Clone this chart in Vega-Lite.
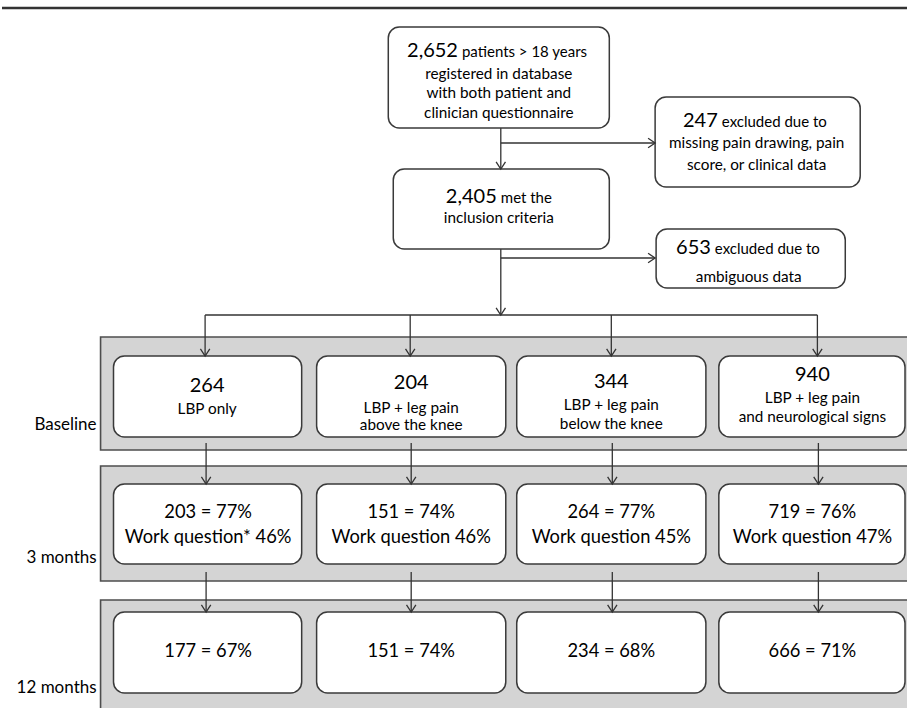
{
  "$schema": "https://vega.github.io/schema/vega-lite/v6.json",
  "width": 909,
  "height": 708,
  "padding": 0,
  "autosize": {"type": "fit", "contains": "padding"},
  "background": "white",
  "config": {"view": {"stroke": null}, "text": {"font": "Lato", "color": "#000000"}},
  "datasets": {
    "bands": [
      {"stage": "Baseline", "x": 99, "x2": 912, "y": 337, "y2": 450},
      {"stage": "3 months", "x": 99, "x2": 912, "y": 466, "y2": 581},
      {"stage": "12 months", "x": 99, "x2": 912, "y": 600, "y2": 714}
    ],
    "frame": [{"x": 0, "x2": 909, "y": 8, "y2": 8}],
    "lines": [
      {"x": 501, "x2": 501, "y": 128, "y2": 169},
      {"x": 501, "x2": 656, "y": 143, "y2": 143},
      {"x": 501, "x2": 501, "y": 249, "y2": 315},
      {"x": 501, "x2": 656, "y": 258, "y2": 258},
      {"x": 204, "x2": 819, "y": 315, "y2": 315},
      {"x": 204, "x2": 204, "y": 315, "y2": 356},
      {"x": 410, "x2": 410, "y": 315, "y2": 356},
      {"x": 612, "x2": 612, "y": 315, "y2": 356},
      {"x": 819, "x2": 819, "y": 315, "y2": 356},
      {"x": 205, "x2": 205, "y": 443, "y2": 484},
      {"x": 411, "x2": 411, "y": 443, "y2": 484},
      {"x": 613, "x2": 613, "y": 443, "y2": 484},
      {"x": 820, "x2": 820, "y": 443, "y2": 484},
      {"x": 205, "x2": 205, "y": 572, "y2": 612},
      {"x": 411, "x2": 411, "y": 572, "y2": 612},
      {"x": 613, "x2": 613, "y": 572, "y2": 612},
      {"x": 820, "x2": 820, "y": 572, "y2": 612}
    ],
    "arrows": [
      {"dir": "down", "x": 501, "y": 169},
      {"dir": "right", "x": 656, "y": 143},
      {"dir": "right", "x": 656, "y": 258},
      {"dir": "down", "x": 501, "y": 315},
      {"dir": "down", "x": 204, "y": 356},
      {"dir": "down", "x": 410, "y": 356},
      {"dir": "down", "x": 612, "y": 356},
      {"dir": "down", "x": 819, "y": 356},
      {"dir": "down", "x": 205, "y": 484},
      {"dir": "down", "x": 411, "y": 484},
      {"dir": "down", "x": 613, "y": 484},
      {"dir": "down", "x": 820, "y": 484},
      {"dir": "down", "x": 205, "y": 612},
      {"dir": "down", "x": 411, "y": 612},
      {"dir": "down", "x": 613, "y": 612},
      {"dir": "down", "x": 820, "y": 612}
    ],
    "boxes": [
      {"id": "registered", "x": 388, "x2": 610, "y": 27, "y2": 128},
      {"id": "excluded1", "x": 656, "x2": 862, "y": 97, "y2": 187},
      {"id": "included", "x": 393, "x2": 610, "y": 169, "y2": 249},
      {"id": "excluded2", "x": 657, "x2": 847, "y": 229, "y2": 288},
      {"id": "b1", "x": 112, "x2": 301, "y": 356, "y2": 437},
      {"id": "b2", "x": 316, "x2": 506, "y": 356, "y2": 437},
      {"id": "b3", "x": 517, "x2": 707, "y": 356, "y2": 437},
      {"id": "b4", "x": 720, "x2": 907, "y": 356, "y2": 437},
      {"id": "m3_1", "x": 112, "x2": 301, "y": 484, "y2": 564},
      {"id": "m3_2", "x": 316, "x2": 506, "y": 484, "y2": 564},
      {"id": "m3_3", "x": 517, "x2": 707, "y": 484, "y2": 564},
      {"id": "m3_4", "x": 720, "x2": 907, "y": 484, "y2": 564},
      {"id": "m12_1", "x": 112, "x2": 301, "y": 612, "y2": 693},
      {"id": "m12_2", "x": 316, "x2": 506, "y": 612, "y2": 693},
      {"id": "m12_3", "x": 517, "x2": 707, "y": 612, "y2": 693},
      {"id": "m12_4", "x": 720, "x2": 907, "y": 612, "y2": 693}
    ],
    "texts": [
      {"role": "lead", "x": 458, "y": 57, "text": "2,652"},
      {"role": "tail", "x": 462, "y": 57, "text": "patients > 18 years"},
      {"role": "line", "x": 499, "y": 74, "text": "registered in database"},
      {"role": "line", "x": 499, "y": 93, "text": "with both  patient and"},
      {"role": "line", "x": 499, "y": 113, "text": "clinician questionnaire"},
      {"role": "lead", "x": 497, "y": 203, "text": "2,405"},
      {"role": "tail", "x": 501, "y": 203, "text": "met the"},
      {"role": "line", "x": 499, "y": 218, "text": "inclusion criteria"},
      {"role": "lead", "x": 719, "y": 127, "text": "247"},
      {"role": "tail", "x": 723, "y": 127, "text": "excluded due to"},
      {"role": "line", "x": 758, "y": 143, "text": "missing pain drawing, pain"},
      {"role": "line", "x": 758, "y": 165, "text": "score, or clinical data"},
      {"role": "lead", "x": 712, "y": 254, "text": "653"},
      {"role": "tail", "x": 716, "y": 254, "text": "excluded due to"},
      {"role": "line", "x": 750, "y": 277, "text": "ambiguous data"},
      {"role": "count", "x": 206, "y": 386, "text": "264"},
      {"role": "line", "x": 206, "y": 409, "text": "LBP only"},
      {"role": "count", "x": 411, "y": 383, "text": "204"},
      {"role": "line", "x": 411, "y": 408, "text": "LBP +  leg pain"},
      {"role": "line", "x": 411, "y": 425, "text": "above the knee"},
      {"role": "count", "x": 612, "y": 382, "text": "344"},
      {"role": "line", "x": 612, "y": 405, "text": "LBP + leg pain"},
      {"role": "line", "x": 612, "y": 424, "text": "below  the knee"},
      {"role": "count", "x": 814, "y": 375, "text": "940"},
      {"role": "line", "x": 814, "y": 398, "text": "LBP +  leg pain"},
      {"role": "line", "x": 814, "y": 417, "text": "and neurological signs"},
      {"role": "stat", "x": 207, "y": 513, "text": "203 = 77%"},
      {"role": "stat", "x": 207, "y": 538, "text": "Work question* 46%"},
      {"role": "stat", "x": 411, "y": 513, "text": "151 = 74%"},
      {"role": "stat", "x": 411, "y": 538, "text": "Work question 46%"},
      {"role": "stat", "x": 612, "y": 513, "text": "264 = 77%"},
      {"role": "stat", "x": 612, "y": 538, "text": "Work question 45%"},
      {"role": "stat", "x": 814, "y": 513, "text": "719 = 76%"},
      {"role": "stat", "x": 814, "y": 538, "text": "Work question 47%"},
      {"role": "stat", "x": 207, "y": 652, "text": "177 = 67%"},
      {"role": "stat", "x": 411, "y": 652, "text": "151 = 74%"},
      {"role": "stat", "x": 612, "y": 652, "text": "234 = 68%"},
      {"role": "stat", "x": 814, "y": 652, "text": "666 = 71%"},
      {"role": "group", "x": 95, "y": 425, "text": "Baseline"},
      {"role": "group", "x": 95, "y": 558, "text": "3 months"},
      {"role": "group", "x": 95, "y": 688, "text": "12 months"}
    ]
  },
  "layer": [
    {
      "data": {"name": "bands"},
      "mark": {"type": "rect", "fill": "#d4d4d4", "stroke": "#4d4d4d", "strokeWidth": 1.6, "clip": true},
      "encoding": {
        "x": {"field": "x", "type": "quantitative", "scale": {"domain": [0, 909], "nice": false, "zero": false}, "axis": null},
        "x2": {"field": "x2"},
        "y": {"field": "y", "type": "quantitative", "scale": {"domain": [0, 708], "nice": false, "zero": false, "reverse": true}, "axis": null},
        "y2": {"field": "y2"}
      }
    },
    {
      "data": {"name": "frame"},
      "mark": {"type": "rule", "color": "#333333", "strokeWidth": 2.5},
      "encoding": {
        "x": {"field": "x", "type": "quantitative"},
        "x2": {"field": "x2"},
        "y": {"field": "y", "type": "quantitative"},
        "y2": {"field": "y2"}
      }
    },
    {
      "data": {"name": "lines"},
      "mark": {"type": "rule", "color": "#333333", "strokeWidth": 1.3},
      "encoding": {
        "x": {"field": "x", "type": "quantitative"},
        "x2": {"field": "x2"},
        "y": {"field": "y", "type": "quantitative"},
        "y2": {"field": "y2"}
      }
    },
    {
      "data": {"name": "boxes"},
      "mark": {"type": "rect", "fill": "white", "stroke": "#3a3a3a", "strokeWidth": 1.5, "cornerRadius": 11},
      "encoding": {
        "x": {"field": "x", "type": "quantitative"},
        "x2": {"field": "x2"},
        "y": {"field": "y", "type": "quantitative"},
        "y2": {"field": "y2"}
      }
    },
    {
      "data": {"name": "arrows"},
      "transform": [{"filter": "datum.dir === 'down'"}],
      "mark": {"type": "point", "shape": "M-1,-1.5L0,0L1,-1.5", "filled": false, "stroke": "#333333", "strokeWidth": 1.3, "opacity": 1, "size": 88},
      "encoding": {
        "x": {"field": "x", "type": "quantitative"},
        "y": {"field": "y", "type": "quantitative"}
      }
    },
    {
      "data": {"name": "arrows"},
      "transform": [{"filter": "datum.dir === 'right'"}],
      "mark": {"type": "point", "shape": "M-1.5,-1L0,0L-1.5,1", "filled": false, "stroke": "#333333", "strokeWidth": 1.3, "opacity": 1, "size": 88},
      "encoding": {
        "x": {"field": "x", "type": "quantitative"},
        "y": {"field": "y", "type": "quantitative"}
      }
    },
    {
      "data": {"name": "texts"},
      "transform": [{"filter": "datum.role === 'lead'"}],
      "mark": {"type": "text", "fontSize": 20, "align": "right", "baseline": "alphabetic"},
      "encoding": {"x": {"field": "x", "type": "quantitative"}, "y": {"field": "y", "type": "quantitative"}, "text": {"field": "text"}}
    },
    {
      "data": {"name": "texts"},
      "transform": [{"filter": "datum.role === 'tail'"}],
      "mark": {"type": "text", "fontSize": 15, "align": "left", "baseline": "alphabetic"},
      "encoding": {"x": {"field": "x", "type": "quantitative"}, "y": {"field": "y", "type": "quantitative"}, "text": {"field": "text"}}
    },
    {
      "data": {"name": "texts"},
      "transform": [{"filter": "datum.role === 'line'"}],
      "mark": {"type": "text", "fontSize": 15.3, "align": "center", "baseline": "middle"},
      "encoding": {"x": {"field": "x", "type": "quantitative"}, "y": {"field": "y", "type": "quantitative"}, "text": {"field": "text"}}
    },
    {
      "data": {"name": "texts"},
      "transform": [{"filter": "datum.role === 'count'"}],
      "mark": {"type": "text", "fontSize": 20, "align": "center", "baseline": "middle"},
      "encoding": {"x": {"field": "x", "type": "quantitative"}, "y": {"field": "y", "type": "quantitative"}, "text": {"field": "text"}}
    },
    {
      "data": {"name": "texts"},
      "transform": [{"filter": "datum.role === 'stat'"}],
      "mark": {"type": "text", "fontSize": 18.3, "align": "center", "baseline": "middle"},
      "encoding": {"x": {"field": "x", "type": "quantitative"}, "y": {"field": "y", "type": "quantitative"}, "text": {"field": "text"}}
    },
    {
      "data": {"name": "texts"},
      "transform": [{"filter": "datum.role === 'group'"}],
      "mark": {"type": "text", "fontSize": 17, "align": "right", "baseline": "middle"},
      "encoding": {"x": {"field": "x", "type": "quantitative"}, "y": {"field": "y", "type": "quantitative"}, "text": {"field": "text"}}
    }
  ]
}
